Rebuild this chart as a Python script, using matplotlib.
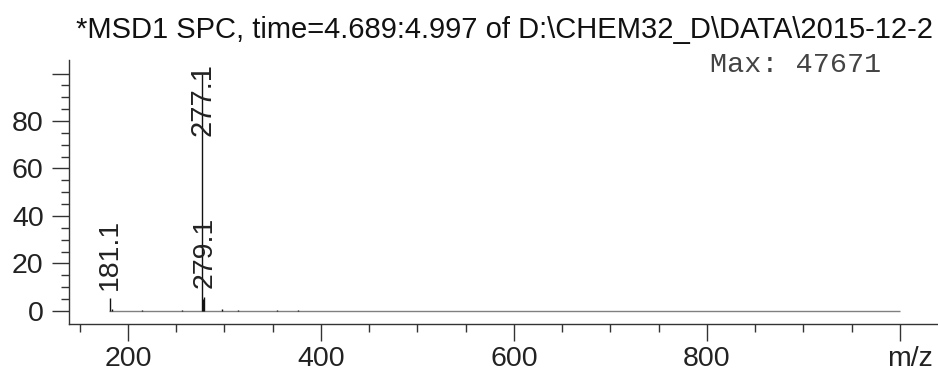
import matplotlib.pyplot as plt
import numpy as np

# spectrum: centroid peaks (m/z, relative abundance %)
peak_mz = [181.1, 183.0, 214.5, 256.0, 277.1, 278.1, 279.1, 297.4, 314.0, 354.0, 376.0]
peak_int = [5.5, 0.8, 0.4, 0.3, 100.0, 5.0, 6.0, 0.8, 0.5, 0.3, 0.3]

# labelled peaks
label_mz = [181.1, 277.1, 279.1]
label_int = [5.5, 100.0, 6.0]
label_txt = ['181.1', '277.1', '279.1']

# baseline scan range
scan_start, scan_end = 180.0, 1000.0

x_major = [200, 400, 600, 800, 1000]
x_labels = ['200', '400', '600', '800', '']
x_unit = 'm/z'
y_major = [0, 20, 40, 60, 80, 100]
y_labels = ['0', '20', '40', '60', '80', '']

title = r'*MSD1 SPC, time=4.689:4.997 of D:\CHEM32_D\DATA\2015-12-2'
max_text = 'Max: 47671'

plt.rcParams['font.family'] = ['Liberation Sans', 'DejaVu Sans']
txt_col = '#222222'
ax_col = '#333333'

fig = plt.figure(figsize=(9.38, 3.71), dpi=100)
ax = fig.add_axes([69 / 938, 47 / 371, (938 - 69) / 938, 264 / 371])

ax.hlines(0, scan_start, scan_end, color='#808080', linewidth=1.0)
ax.vlines(peak_mz, 0, peak_int, color='#111111', linewidth=1.0)

ax.set_xlim(138.9, 1039.4)
ax.set_ylim(-5.5, 105.7)

for mz, inten, txt in zip(label_mz, label_int, label_txt):
    if inten > 50:
        ax.annotate(txt, (mz, 105.7), xytext=(0, -2), textcoords='offset points',
                    rotation=90, ha='center', va='top', fontsize=21, color=txt_col)
    else:
        ax.annotate(txt, (mz, inten), xytext=(0, 6), textcoords='offset points',
                    rotation=90, ha='center', va='bottom', fontsize=20.5, color=txt_col)

ax.set_xticks(x_major)
ax.set_xticklabels(x_labels)
ax.set_xticks(np.arange(150, 1001, 50), minor=True)
ax.set_yticks(y_major)
ax.set_yticklabels(y_labels)
ax.set_yticks(np.arange(5, 100, 5), minor=True)

ax.tick_params(which='major', length=12.2, width=1.0, color=ax_col,
               labelsize=20.5, labelcolor=txt_col)
ax.tick_params(which='minor', length=5.8, width=1.0, color=ax_col)
ax.tick_params(axis='x', which='major', pad=4)
ax.tick_params(axis='y', which='major', pad=6)

# unit label under the last major tick, nudged right
ax.annotate(x_unit, (x_major[-1], 0), xycoords=('data', 'axes fraction'),
            xytext=(7, -15.8), textcoords='offset points', ha='center', va='top',
            fontsize=20.5, color=txt_col)

for side in ['top', 'right']:
    ax.spines[side].set_visible(False)
for side in ['left', 'bottom']:
    ax.spines[side].set_color(ax_col)
    ax.spines[side].set_linewidth(1.0)

fig.text(504 / 938, 1 - 38 / 371, title, ha='center', va='baseline',
         fontsize=21, color='#111111')
fig.text(710 / 938, 1 - 72 / 371, max_text, ha='left', va='baseline',
         fontsize=20.5, family='Liberation Mono', color='#444444')

fig.savefig('out.png', dpi=100)
